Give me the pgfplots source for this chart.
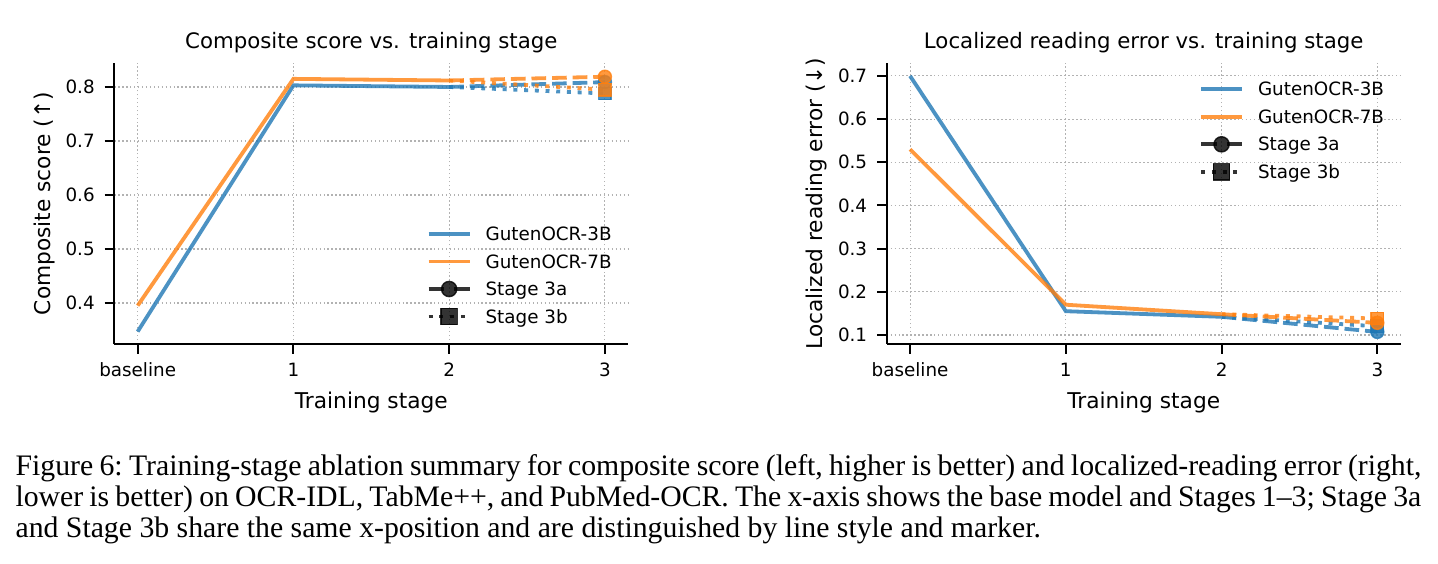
\documentclass[border=0pt]{standalone}
\usepackage{fontspec}
\setmainfont{DejaVu Sans}
\newfontfamily\captionfont{Liberation Serif}
\usepackage{pgfplots}
\pgfplotsset{compat=1.18}

\definecolor{tabblue}{HTML}{1F77B4}
\definecolor{taborange}{HTML}{FF7F0E}

\newcommand{\tickfont}{\fontsize{6.5}{7.8}\selectfont}
\newcommand{\labelfont}{\fontsize{7.7}{9.2}\selectfont}
\newcommand{\titlefont}{\fontsize{7.55}{9}\selectfont}
\newcommand{\legendfont}{\fontsize{6.5}{7.8}\selectfont}

\tikzset{
  model line/.style={line width=1.35pt, draw opacity=0.8},
  stage a/.style={dash pattern=on 5.2pt off 2.1pt},
  stage b/.style={dash pattern=on 1.4pt off 2.4pt},
  end dot/.style={mark=*, mark indices={2}, mark size=2.3pt,
    mark options={solid, line width=0.5pt, fill=#1, fill opacity=0.8, draw opacity=0.8}},
  end square/.style={mark=square*, mark indices={2}, mark size=2.2pt,
    mark options={solid, line width=0.5pt, fill=#1, fill opacity=0.8, draw opacity=0.8}},
  key a/.style={black, model line, dash pattern=on 5.5pt off 3.5pt, mark=*, mark size=2.7pt,
    mark options={solid, line width=0.5pt, fill=black, fill opacity=0.8, draw opacity=0.8}},
  key b/.style={black, model line, stage b, mark=square*, mark size=2.9pt,
    mark options={solid, line width=0.5pt, fill=black, fill opacity=0.8, draw opacity=0.8}},
}

\pgfplotsset{
  stage panel/.style={
    scale only axis, width=182.27pt, height=99.65pt,
    axis lines*=left,
    axis line style={line width=0.7pt, black},
    tick align=outside, major tick length=3.4pt,
    tick style={line width=0.7pt, black},
    xmin=-0.15, xmax=3.15,
    xtick={0,1,2,3}, xticklabels={baseline,1,2,3},
    grid=major,
    grid style={line width=0.4pt, black!30, dash pattern=on 0.5pt off 0.9pt},
    tick label style={font=\tickfont},
    xticklabel style={anchor=base, yshift=-8pt},
    yticklabel style={anchor=east},
    /pgf/number format/assume math mode=true,
    /pgf/number format/fixed, /pgf/number format/precision=1,
    every axis title/.style={at={(axis description cs:0.5,1)}, anchor=base, yshift=5.21pt, font=\titlefont},
    every axis x label/.style={at={([yshift=-22.8pt]axis description cs:0.5,0)}, anchor=base, font=\labelfont},
    every axis y label/.style={at={([xshift=-22.6pt]axis description cs:0,0.5)}, rotate=90, anchor=base, font=\labelfont},
    xlabel={Training stage},
    legend cell align=left,
    legend style={draw=none, fill=none, inner sep=0pt, outer sep=0pt, font=\legendfont, row sep=2.49pt,
      nodes={inner sep=0pt, text height=6pt, text depth=1.26pt},
      /tikz/every odd column/.append style={column sep=5pt}, anchor=north west},
    legend image code/.code={\draw[mark repeat=2, mark phase=2, #1] plot coordinates {(0pt,0pt) (7.25pt,0pt) (14.5pt,0pt)};},
  },
}

\begin{document}
\begin{tikzpicture}
\useasboundingbox (0,0) rectangle (509.93pt,200pt);

% Left panel: composite score (higher is better)
\begin{axis}[stage panel, at={(40.53pt,78.01pt)}, anchor=south west,
  ymin=0.324, ymax=0.8444, ytick={0.4,0.5,0.6,0.7,0.8},
  title={Composite score vs. training stage},
  ylabel={Composite score (↑)},
  legend style={at={(axis description cs:0.608,0.4278)}}]
\addlegendimage{tabblue, model line}
\addlegendentry{GutenOCR-3B}
\addlegendimage{taborange, model line}
\addlegendentry{GutenOCR-7B}
\addlegendimage{key a}
\addlegendentry{Stage 3a}
\addlegendimage{key b}
\addlegendentry{Stage 3b}
% GutenOCR-3B
\addplot[tabblue, model line, forget plot] coordinates {(0,0.347) (1,0.803) (2,0.800)};
\addplot[tabblue, model line, stage a, end dot=tabblue, forget plot] coordinates {(2,0.800) (3,0.809)};
\addplot[tabblue, model line, stage b, end square=tabblue, forget plot] coordinates {(2,0.800) (3,0.788)};
% GutenOCR-7B
\addplot[taborange, model line, forget plot] coordinates {(0,0.395) (1,0.815) (2,0.812)};
\addplot[taborange, model line, stage a, end dot=taborange, forget plot] coordinates {(2,0.812) (3,0.819)};
\addplot[taborange, model line, stage b, end square=taborange, forget plot] coordinates {(2,0.812) (3,0.795)};
\end{axis}

% Right panel: localized reading error (lower is better)
\begin{axis}[stage panel, at={(314.43pt,78.01pt)}, anchor=south west,
  ymin=0.079, ymax=0.730, ytick={0.1,0.2,0.3,0.4,0.5,0.6,0.7},
  title={Localized reading error vs. training stage},
  ylabel={Localized reading error (↓)},
  legend style={at={(axis description cs:0.608,0.9427)}}]
\addlegendimage{tabblue, model line}
\addlegendentry{GutenOCR-3B}
\addlegendimage{taborange, model line}
\addlegendentry{GutenOCR-7B}
\addlegendimage{key a}
\addlegendentry{Stage 3a}
\addlegendimage{key b}
\addlegendentry{Stage 3b}
% GutenOCR-3B
\addplot[tabblue, model line, forget plot] coordinates {(0,0.700) (1,0.155) (2,0.142)};
\addplot[tabblue, model line, stage a, end dot=tabblue, forget plot] coordinates {(2,0.142) (3,0.107)};
\addplot[tabblue, model line, stage b, end square=tabblue, forget plot] coordinates {(2,0.142) (3,0.120)};
% GutenOCR-7B
\addplot[taborange, model line, forget plot] coordinates {(0,0.530) (1,0.170) (2,0.148)};
\addplot[taborange, model line, stage a, end dot=taborange, forget plot] coordinates {(2,0.148) (3,0.128)};
\addplot[taborange, model line, stage b, end square=taborange, forget plot] coordinates {(2,0.148) (3,0.138)};
\end{axis}

% Caption
\node[anchor=base west, inner sep=0pt] at (5.32pt,31.31pt) {\parbox[t]{498.5pt}{\captionfont\fontsize{10.55}{11}\selectfont\frenchspacing
Figure 6: Training-stage ablation summary for composite score (left, higher is better) and localized-reading error (right,\linebreak
lower is better) on OCR-IDL, TabMe++, and PubMed-OCR. The x-axis shows the base model and Stages 1–3; Stage 3a\linebreak
and Stage 3b share the same x-position and are distinguished by line style and marker.}};
\end{tikzpicture}
\end{document}
